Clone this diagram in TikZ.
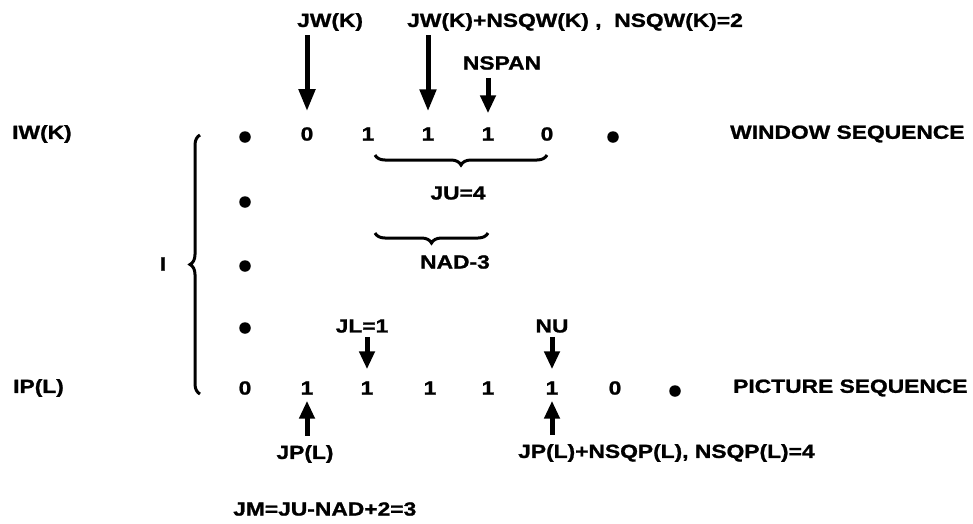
\documentclass[tikz,border=0pt]{standalone}
\usepackage{fontspec}
\setmainfont{Liberation Sans}[FakeStretch=1.2, BoldFeatures={FakeBold=1.2}]
\usetikzlibrary{arrows.meta,decorations.pathreplacing}
\begin{document}
\begin{tikzpicture}[x=1pt,y=-1pt,
  txt/.style={font=\fontsize{19}{21}\selectfont\bfseries, inner sep=0pt},
  dig/.style={txt},
  dotn/.style={circle, fill=black, inner sep=0pt, minimum size=11.5pt},
  bigarrow/.style={line width=5pt, -{Triangle[width=16pt,length=22pt]}},
  smallarrow/.style={line width=5pt, -{Triangle[width=15pt,length=18pt]}},
  brc/.style={line width=3pt, decorate, decoration={brace, amplitude=10pt}}]
\useasboundingbox (0,0) rectangle (973,523);

% row labels
\node[txt, anchor=west] (iw) at (12,134) {IW(K)};
\node[txt, anchor=west] (ip) at (13,388) {IP(L)};
\node[txt] (ilab) at (163,264) {I};

% window sequence
\node[dotn] (w0) at (245,137) {};
\node[dig] (w1) at (307,134) {0};
\node[dig] (w2) at (368,134) {1};
\node[dig] (w3) at (428,134) {1};
\node[dig] (w4) at (488,134) {1};
\node[dig] (w5) at (547,134) {0};
\node[dotn] (w6) at (613,137) {};
\node[txt, anchor=west] (ws) at (730,134) {WINDOW SEQUENCE};

% column of dots
\node[dotn] (c1) at (245,202) {};
\node[dotn] (c2) at (245,266) {};
\node[dotn] (c3) at (245,328) {};

% picture sequence
\node[dig] (p0) at (245,388) {0};
\node[dig] (p1) at (307,388) {1};
\node[dig] (p2) at (367,388) {1};
\node[dig] (p3) at (430,388) {1};
\node[dig] (p4) at (488,388) {1};
\node[dig] (p5) at (552,388) {1};
\node[dig] (p6) at (615,388) {0};
\node[dotn] (p7) at (675,391) {};
\node[txt, anchor=west] (ps) at (733,388) {PICTURE SEQUENCE};

% top labels
\node[txt, anchor=west] (jw) at (297,22) {JW(K)};
\node[txt, anchor=west] (jwn) at (407,22) {JW(K)+NSQW(K)\ ,\ \ NSQW(K)=2};
\node[txt] (nspan) at (502,63) {NSPAN};

% labels around picture row
\node[txt] (jl) at (362,326) {JL=1};
\node[txt] (nu) at (552,326) {NU};
\node[txt] (jp) at (305,454) {JP(L)};
\node[txt, anchor=west] (jpn) at (518,453) {JP(L)+NSQP(L), NSQP(L)=4};
\node[txt, anchor=west] (jm) at (233,509) {JM=JU-NAD+2=3};

% brace labels
\node[txt] (ju) at (458,193) {JU=4};
\node[txt] (nad) at (455,262) {NAD-3};

% arrows
\draw[bigarrow, shorten <=4pt, shorten >=16pt] (w1 |- jw.south) -- (w1.north);
\draw[bigarrow, shorten <=4pt, shorten >=16pt] (w3 |- jwn.south) -- (w3.north);
\draw[smallarrow, shorten <=8pt, shorten >=14pt] (w4 |- nspan.south) -- (w4.north);
\draw[smallarrow, shorten <=4pt, shorten >=12pt] (p2 |- jl.south) -- (p2.north);
\draw[smallarrow, shorten <=4pt, shorten >=12pt] (p5 |- nu.south) -- (p5.north);
\draw[smallarrow, shorten <=9pt, shorten >=6pt] (p1 |- jp.north) -- (p1.south);
\draw[smallarrow, shorten <=9pt, shorten >=6pt] (p5 |- jpn.north) -- (p5.south);

% braces
\coordinate (juL) at (375,155);
\coordinate (juR) at (547,155);
\coordinate (naL) at (375,233);
\coordinate (naR) at (488,233);
\coordinate (bB) at (200,394);
\coordinate (bT) at (200,135);
\draw[brc, decoration={mirror}] (juL) -- (juR);
\draw[brc, decoration={mirror}] (naL) -- (naR);
\draw[brc] (bB) -- (bT);
\end{tikzpicture}
\end{document}
